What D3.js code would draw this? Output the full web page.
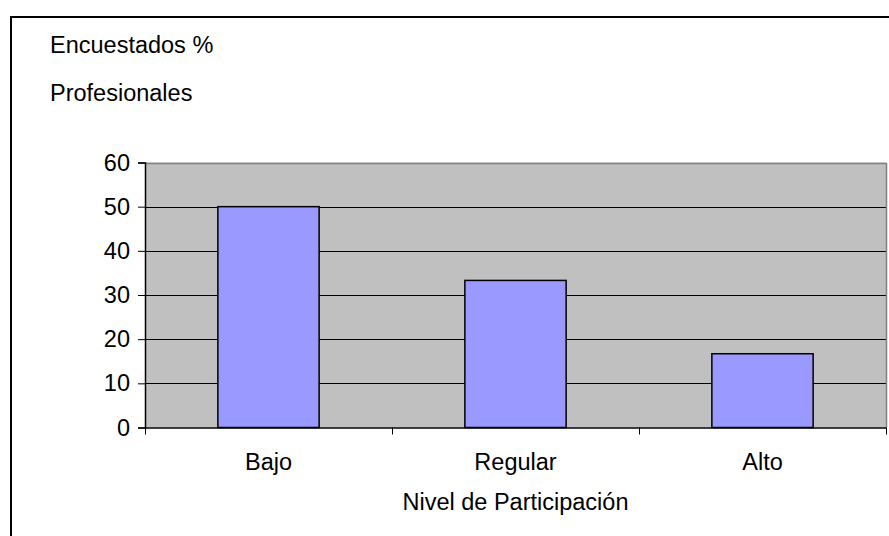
<!DOCTYPE html>
<html>
<head>
<meta charset="utf-8">
<script src="https://cdn.jsdelivr.net/npm/d3@7"></script>
<style>
  html, body { margin: 0; padding: 0; background: #fff; }
  svg { display: block; }
  text { font-family: Arial, "Liberation Sans", sans-serif; fill: #000; }
</style>
</head>
<body>
<svg id="chart" width="889" height="536"></svg>
<script>
const categories = ["Bajo", "Regular", "Alto"];
const values = [50, 33.3, 16.7];
const yTicks = [0, 10, 20, 30, 40, 50, 60];
const titleLines = ["Encuestados %", "Profesionales"];
const xTitle = "Nivel de Participación";

const svg = d3.select("#chart");
const W = 889, H = 536;
const FS = "23.5px";
const plot = { left: 145, top: 162.5, right: 886, bottom: 427.5 };

// outer chart border (extends past right/bottom edges)
svg.append("rect")
  .attr("x", 11).attr("y", 17)
  .attr("width", W + 20).attr("height", H + 20)
  .attr("fill", "#fff").attr("stroke", "#000").attr("stroke-width", 2);

const x = d3.scaleBand()
  .domain(categories)
  .range([plot.left, plot.right])
  .paddingInner(0.59)
  .paddingOuter(0.295);

const xCat = d3.scaleBand()
  .domain(categories)
  .range([plot.left, plot.right])
  .padding(0);

const y = d3.scaleLinear().domain([0, 60]).range([plot.bottom, plot.top]);

// plot background
svg.append("rect")
  .attr("x", plot.left).attr("y", plot.top)
  .attr("width", plot.right - plot.left).attr("height", plot.bottom - plot.top)
  .attr("fill", "#C0C0C0");

// gridlines
svg.append("g")
  .selectAll("line")
  .data(yTicks.filter(d => d > 0 && d < 60))
  .join("line")
  .attr("x1", plot.left).attr("x2", plot.right)
  .attr("y1", d => Math.round(y(d)) + 0.5).attr("y2", d => Math.round(y(d)) + 0.5)
  .attr("stroke", "#000").attr("stroke-width", 1);

// plot frame top/right (gray)
svg.append("path")
  .attr("d", `M${plot.left},${Math.round(plot.top) + 0.5}H${plot.right + 0.5}V${plot.bottom}`)
  .attr("fill", "none").attr("stroke", "#808080").attr("stroke-width", 1.5);

// bars
svg.append("g")
  .selectAll("rect")
  .data(categories.map((c, i) => ({ c, v: values[i] })))
  .join("rect")
  .attr("x", d => x(d.c))
  .attr("y", d => y(d.v))
  .attr("width", x.bandwidth())
  .attr("height", d => y(0) - y(d.v))
  .attr("fill", "#9999FF")
  .attr("stroke", "#000")
  .attr("stroke-width", 1.5);

// y axis
const yAxis = d3.axisLeft(y).tickValues(yTicks).tickSize(7).tickPadding(8).tickFormat(d3.format("d"));
const gy = svg.append("g").attr("transform", `translate(${plot.left},0)`).call(yAxis);
gy.select(".domain").attr("stroke", "#000").attr("stroke-width", 1.5);
gy.selectAll(".tick line").attr("stroke", "#000");
gy.selectAll(".tick text").style("font-size", FS).attr("fill", "#000")
  .style("font-family", "Arial, 'Liberation Sans', sans-serif");

// x axis
const xAxis = d3.axisBottom(xCat).tickSize(0).tickPadding(26);
const gx = svg.append("g").attr("transform", `translate(0,${plot.bottom})`).call(xAxis);
gx.select(".domain").attr("stroke", "#000").attr("stroke-width", 1.5);
gx.selectAll(".tick text").style("font-size", FS).attr("fill", "#000")
  .style("font-family", "Arial, 'Liberation Sans', sans-serif");

// category boundary ticks
const bounds = categories.map(c => xCat(c)).concat([plot.right]);
svg.append("g")
  .selectAll("line")
  .data(bounds)
  .join("line")
  .attr("x1", d => Math.round(d) + 0.5).attr("x2", d => Math.round(d) + 0.5)
  .attr("y1", plot.bottom).attr("y2", plot.bottom + 7)
  .attr("stroke", "#000").attr("stroke-width", 1);

// titles
svg.append("g")
  .selectAll("text")
  .data(titleLines)
  .join("text")
  .attr("x", 50)
  .attr("y", (d, i) => 53 + i * 47.5)
  .style("font-size", FS)
  .text(d => d);

svg.append("text")
  .attr("x", (plot.left + plot.right) / 2)
  .attr("y", 510)
  .attr("text-anchor", "middle")
  .style("font-size", FS)
  .text(xTitle);
</script>
</body>
</html>
